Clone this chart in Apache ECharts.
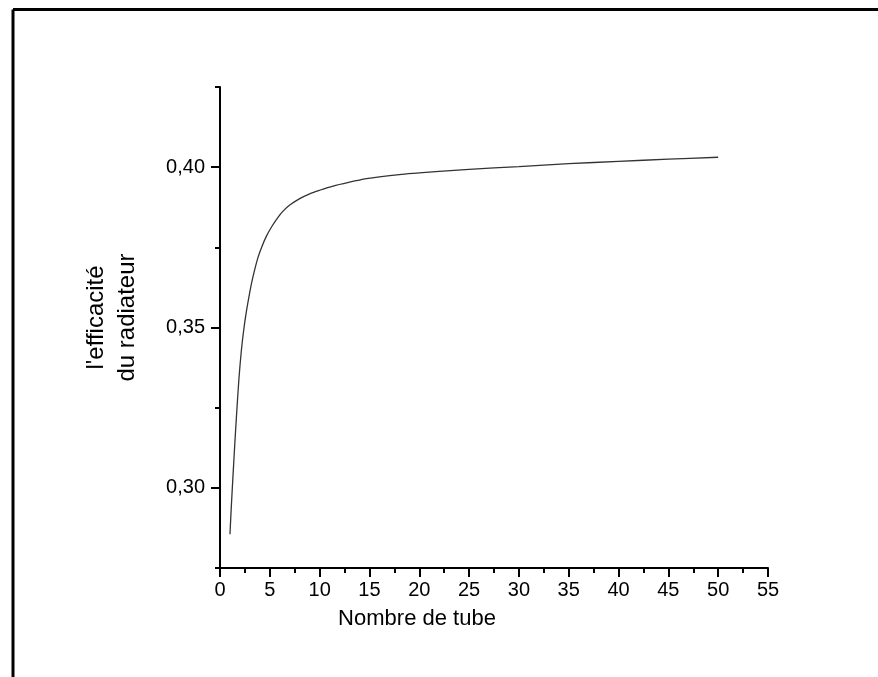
<!DOCTYPE html>
<html>
<head>
<meta charset="utf-8">
<script src="https://cdn.jsdelivr.net/npm/echarts@6/dist/echarts.min.js"></script>
<style>
  html, body { margin: 0; padding: 0; background: #fff; }
  #chart { width: 878px; height: 677px; }
</style>
</head>
<body>
<div id="chart"></div>
<script>
// values
const tubeCounts = [1, 1.15, 1.3, 1.5, 1.65, 1.9, 2.15, 2.4, 2.65, 3, 3.3, 3.8, 4.2, 4.66, 5.2, 5.8, 6.33, 7, 8, 9, 10, 11.35, 13, 14.7, 16, 18, 20, 22, 25, 30, 35, 40, 45, 50];
const efficiency = [0.2855, 0.2950, 0.3035, 0.3145, 0.3222, 0.3340, 0.3430, 0.3497, 0.3550, 0.3612, 0.3657, 0.3717, 0.3752, 0.3785, 0.3815, 0.3843, 0.3863, 0.3882, 0.3902, 0.3917, 0.3928, 0.3941, 0.3953, 0.3964, 0.3970, 0.3977, 0.3982, 0.3987, 0.3993, 0.4002, 0.4011, 0.4018, 0.4025, 0.4031];

const yMajorTicks = [0.30, 0.35, 0.40];
const xLabel = "Nombre de tube";
const yLabel = "l'efficacité\ndu radiateur";

const FONT = "Liberation Sans, Arial, sans-serif";
const INK = "#000";

const chart = echarts.init(document.getElementById("chart"));

const seriesData = tubeCounts.map((x, i) => [x, efficiency[i]]);

function formatComma(value) {
  return value.toFixed(2).replace(".", ",");
}

chart.setOption({
  backgroundColor: "#fff",
  animation: false,
  grid: { left: 220, right: 110, top: 87, bottom: 109 },
  xAxis: {
    type: "value",
    min: 0,
    max: 55,
    interval: 5,
    name: xLabel,
    nameLocation: "middle",
    nameGap: 40,
    nameTextStyle: { fontFamily: FONT, fontSize: 22, color: INK, padding: [0, 154, 0, 0] },
    axisLine: { show: true, onZero: false, lineStyle: { color: INK, width: 2 } },
    axisTick: { show: true, length: 9, lineStyle: { color: INK, width: 2 } },
    minorTick: { show: true, splitNumber: 2, length: 5, lineStyle: { color: INK, width: 2 } },
    axisLabel: { fontFamily: FONT, fontSize: 20, color: INK, margin: 12 },
    splitLine: { show: false },
  },
  yAxis: [
    {
      type: "value",
      min: 0.275,
      max: 0.425,
      interval: 0.025,
      name: yLabel,
      nameLocation: "middle",
      nameGap: 77,
      nameRotate: 90,
      nameTextStyle: { fontFamily: FONT, fontSize: 24, color: INK, lineHeight: 31, padding: [0, 0, 0, 20] },
      axisLine: { show: true, onZero: false, lineStyle: { color: INK, width: 2 } },
      axisTick: { show: true, length: 9, customValues: yMajorTicks, lineStyle: { color: INK, width: 2 } },
      axisLabel: {
        fontFamily: FONT,
        fontSize: 20,
        color: INK,
        margin: 15,
        customValues: yMajorTicks,
        formatter: formatComma,
      },
      splitLine: { show: false },
    },
    {
      // minor ticks only, halfway between the labelled values
      type: "value",
      position: "left",
      min: 0.275,
      max: 0.425,
      interval: 0.05,
      axisLine: { show: false },
      axisTick: { show: true, length: 5, lineStyle: { color: INK, width: 2 } },
      axisLabel: { show: false },
      splitLine: { show: false },
    },
  ],
  series: [
    {
      type: "line",
      yAxisIndex: 0,
      data: seriesData,
      smooth: 0.3,
      symbol: "none",
      lineStyle: { color: "#333", width: 1.3 },
    },
  ],
  graphic: [
    { type: "line", shape: { x1: 13, y1: 9.5, x2: 878, y2: 9.5 }, style: { stroke: "#000", lineWidth: 3 } },
    { type: "line", shape: { x1: 13, y1: 9.5, x2: 13, y2: 677 }, style: { stroke: "#000", lineWidth: 3 } },
  ],
});
</script>
</body>
</html>
